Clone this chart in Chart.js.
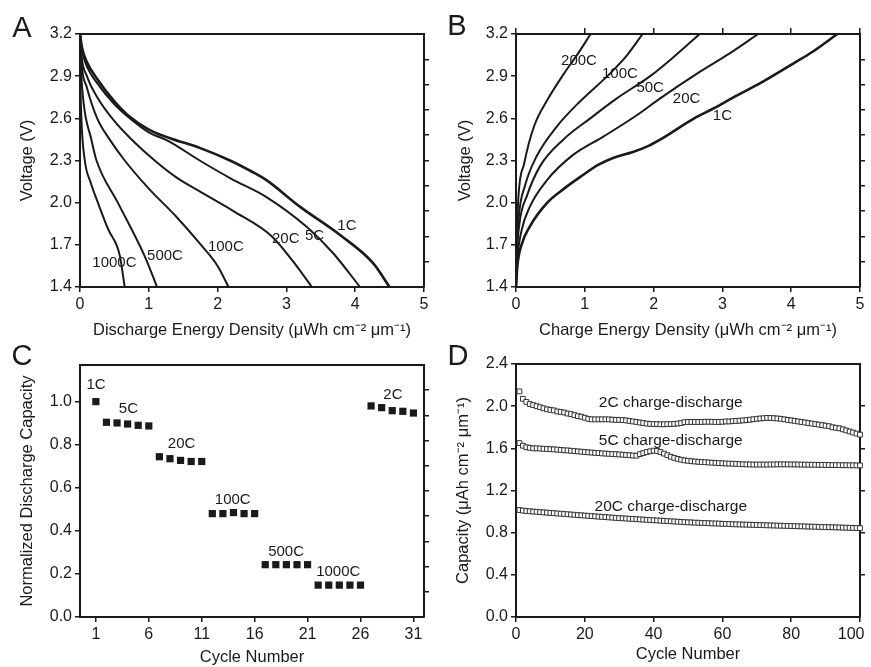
<!DOCTYPE html>
<html>
<head>
<meta charset="utf-8">
<script src="https://cdn.jsdelivr.net/npm/chart.js@4.4.1/dist/chart.umd.min.js"></script>
<style>
  body { margin: 0; background: #fff; width: 871px; height: 667px; position: relative; overflow: hidden; font-family: "Liberation Sans", Arial, sans-serif; }
  canvas { position: absolute; }
  .lt { position: absolute; font-size: 29px; line-height: 1; color: #1a1a1a; transform: translate(-50%, -50%); }
</style>
</head>
<body>
<canvas id="chartA" width="435" height="342" style="left:0;top:0"></canvas>
<canvas id="chartB" width="436" height="342" style="left:435px;top:0"></canvas>
<canvas id="chartC" width="435" height="325" style="left:0;top:342px"></canvas>
<canvas id="chartD" width="436" height="325" style="left:435px;top:342px"></canvas>
<div class="lt" style="left:22px;top:27px">A</div>
<div class="lt" style="left:457px;top:25px">B</div>
<div class="lt" style="left:22px;top:355px">C</div>
<div class="lt" style="left:458px;top:355px">D</div>
<script>
// ---- A: discharge curves [energy density, voltage]
const dis1C = [[0,3.2],[0.03,3.1],[0.1,3.0],[0.25,2.88],[0.5,2.72],[0.7,2.62],[1.0,2.52],[1.3,2.46],[1.74,2.39],[2.18,2.3],[2.5,2.22],[2.71,2.16],[3.2,1.97],[3.78,1.77],[4.26,1.57],[4.5,1.4]];
const dis5C = [[0,3.2],[0.03,3.08],[0.1,2.97],[0.25,2.85],[0.5,2.7],[0.75,2.59],[1.0,2.5],[1.28,2.44],[1.74,2.3],[2.2,2.17],[2.71,2.04],[3.29,1.83],[3.68,1.64],[4.07,1.4]];
const dis20C = [[0,3.2],[0.02,3.05],[0.1,2.9],[0.25,2.75],[0.5,2.58],[0.75,2.45],[1.085,2.3],[1.4,2.18],[1.74,2.08],[2.23,1.94],[2.79,1.76],[3.1,1.58],[3.37,1.4]];
const dis100C = [[0,3.2],[0.02,3.0],[0.1,2.82],[0.25,2.6],[0.43,2.45],[0.65,2.3],[1.0,2.1],[1.4,1.9],[1.74,1.71],[2.0,1.55],[2.16,1.4]];
const dis500C = [[0,3.2],[0.01,3.0],[0.05,2.72],[0.165,2.45],[0.24,2.3],[0.55,2.0],[0.94,1.62],[1.12,1.4]];
const dis1000C = [[0,3.2],[0.005,2.9],[0.02,2.6],[0.07,2.3],[0.15,2.15],[0.26,2.0],[0.42,1.8],[0.53,1.7],[0.58,1.62],[0.65,1.4]];
const labelsA = [
  {text: "1000C", x: 0.50, y: 1.57}, {text: "500C", x: 1.235, y: 1.62}, {text: "100C", x: 2.12, y: 1.683},
  {text: "20C", x: 2.99, y: 1.744}, {text: "5C", x: 3.41, y: 1.763}, {text: "1C", x: 3.88, y: 1.834}
];

// ---- B: charge curves
const chg1C = [[0,1.4],[0.02,1.55],[0.08,1.7],[0.2,1.83],[0.455,2.0],[0.7,2.1],[0.94,2.185],[1.2,2.27],[1.42,2.32],[1.7,2.36],[1.91,2.4],[2.1,2.45],[2.59,2.6],[2.87,2.67],[3.2,2.76],[3.55,2.85],[4.03,2.99],[4.3,3.07],[4.67,3.2]];
const chg20C = [[0,1.4],[0.02,1.6],[0.08,1.8],[0.2,1.97],[0.45,2.16],[0.83,2.34],[1.27,2.47],[1.75,2.62],[2.09,2.74],[2.67,2.93],[3.1,3.06],[3.52,3.2]];
const chg50C = [[0,1.4],[0.01,1.6],[0.05,1.85],[0.16,2.05],[0.35,2.26],[0.69,2.45],[1.08,2.6],[1.46,2.74],[1.95,2.9],[2.3,3.04],[2.67,3.2]];
const chg100C = [[0,1.4],[0.01,1.65],[0.04,1.9],[0.13,2.12],[0.3,2.33],[0.59,2.54],[0.93,2.72],[1.37,2.92],[1.6,3.04],[1.84,3.2]];
const chg200C = [[0,1.4],[0.01,1.7],[0.03,2.0],[0.12,2.28],[0.26,2.54],[0.455,2.73],[0.7,2.92],[0.9,3.06],[1.085,3.2]];
const labelsB = [
  {text: "200C", x: 0.916, y: 3.01}, {text: "100C", x: 1.51, y: 2.915}, {text: "50C", x: 1.95, y: 2.814},
  {text: "20C", x: 2.48, y: 2.738}, {text: "1C", x: 3.0, y: 2.617}
];

// ---- C: normalized discharge capacity per cycle
const cycleC = [1,2,3,4,5,6,7,8,9,10,11,12,13,14,15,16,17,18,19,20,21,22,23,24,25,26,27,28,29,30,31];
const capC = [1.0, 0.904,0.901,0.896,0.89,0.887, 0.744,0.735,0.727,0.722,0.722, 0.48,0.48,0.485,0.48,0.48,
  0.243,0.243,0.243,0.243,0.243, 0.148,0.148,0.148,0.148,0.148, 0.98,0.972,0.958,0.955,0.947];
const labelsC = [
  {text: "1C", x: 1.01, y: 1.078}, {text: "5C", x: 4.07, y: 0.966}, {text: "20C", x: 9.1, y: 0.803},
  {text: "100C", x: 13.93, y: 0.546}, {text: "500C", x: 18.97, y: 0.303}, {text: "1000C", x: 23.9, y: 0.21},
  {text: "2C", x: 29.06, y: 1.031}
];

// ---- D: capacity over 100 cycles
const cycleD = [1,2,3,4,5,6,7,8,9,10,11,12,13,14,15,16,17,18,19,20,21,22,23,24,25,26,27,28,29,30,31,32,33,34,35,36,37,38,39,40,41,42,43,44,45,46,47,48,49,50,
  51,52,53,54,55,56,57,58,59,60,61,62,63,64,65,66,67,68,69,70,71,72,73,74,75,76,77,78,79,80,81,82,83,84,85,86,87,88,89,90,91,92,93,94,95,96,97,98,99,100];
const cap2C = [2.14,2.07,2.04,2.02,2.01,2.0,1.99,1.98,1.97,1.965,1.96,1.95,1.945,1.94,1.93,1.925,1.915,1.905,1.9,1.89,
  1.88,1.875,1.875,1.875,1.875,1.875,1.875,1.872,1.87,1.87,1.868,1.865,1.86,1.855,1.85,1.845,1.84,1.835,1.832,1.83,
  1.83,1.828,1.828,1.83,1.83,1.832,1.835,1.84,1.848,1.85,1.85,1.85,1.85,1.85,1.852,1.852,1.852,1.85,1.85,1.852,
  1.855,1.855,1.858,1.86,1.862,1.865,1.868,1.872,1.876,1.88,1.883,1.886,1.888,1.888,1.886,1.883,1.88,1.875,1.87,1.865,
  1.86,1.855,1.85,1.845,1.84,1.835,1.83,1.825,1.82,1.815,1.81,1.8,1.795,1.79,1.78,1.77,1.76,1.75,1.74,1.73];
const cap5C = [1.65,1.625,1.61,1.605,1.6,1.6,1.598,1.596,1.594,1.592,1.59,1.588,1.585,1.582,1.58,1.577,1.574,1.571,1.568,1.565,
  1.562,1.56,1.557,1.555,1.552,1.55,1.548,1.546,1.544,1.542,1.54,1.537,1.535,1.532,1.53,1.545,1.555,1.565,1.572,1.578,
  1.575,1.565,1.55,1.535,1.52,1.51,1.5,1.492,1.486,1.482,1.478,1.475,1.472,1.47,1.468,1.466,1.464,1.462,1.46,1.458,
  1.456,1.455,1.454,1.452,1.45,1.449,1.448,1.447,1.446,1.446,1.446,1.446,1.446,1.447,1.447,1.448,1.448,1.448,1.448,1.447,
  1.447,1.446,1.446,1.445,1.445,1.444,1.444,1.443,1.443,1.442,1.442,1.441,1.441,1.44,1.44,1.44,1.439,1.439,1.438,1.438];
const cap20C = [1.015,1.01,1.005,1.003,1.0,0.998,0.995,0.992,0.99,0.987,0.985,0.982,0.98,0.977,0.975,0.972,0.97,0.967,0.965,0.962,
  0.96,0.957,0.955,0.952,0.95,0.948,0.945,0.943,0.94,0.938,0.936,0.934,0.932,0.93,0.928,0.926,0.924,0.922,0.92,0.918,
  0.916,0.914,0.912,0.91,0.908,0.906,0.904,0.902,0.9,0.898,0.897,0.895,0.894,0.892,0.891,0.89,0.888,0.887,0.886,0.884,
  0.883,0.882,0.88,0.879,0.878,0.877,0.876,0.875,0.874,0.873,0.872,0.871,0.87,0.869,0.868,0.867,0.866,0.865,0.864,0.863,
  0.862,0.861,0.86,0.859,0.858,0.857,0.856,0.855,0.854,0.853,0.852,0.851,0.85,0.849,0.848,0.847,0.846,0.845,0.844,0.843];
const labelsD = [
  {text: "2C charge-discharge", x: 45, y: 2.036}, {text: "5C charge-discharge", x: 45, y: 1.675},
  {text: "20C charge-discharge", x: 45, y: 1.049}
];

// ---- axis tick lists
const voltTicks = [1.4, 1.7, 2.0, 2.3, 2.6, 2.9, 3.2];
const voltRight = [1.58, 1.76, 1.94, 2.12, 2.3, 2.48, 2.66, 2.84, 3.02];
const energyTicks = [0, 1, 2, 3, 4, 5];
const cycleTicksC = [1, 6, 11, 16, 21, 26, 31];
const normTicks = [0, 0.2, 0.4, 0.6, 0.8, 1.0];
const normRight = [0.117, 0.234, 0.351, 0.468, 0.585, 0.702, 0.819, 0.936, 1.053];
const cycleTicksD = [0, 20, 40, 60, 80, 100];
const capTicks = [0, 0.4, 0.8, 1.2, 1.6, 2.0, 2.4];
const capRight = [0.4, 0.8, 1.2, 1.6, 2.0];

const FONT = '"Liberation Sans", Arial, sans-serif';
const ink = "#1a1a1a";

const pairs = arr => arr.map(p => ({x: p[0], y: p[1]}));
const fixedTicks = list => s => { s.ticks = list.map(v => ({value: v})); };

const textLabels = {
  id: "textLabels",
  afterDatasetsDraw(chart, args, opts) {
    const {ctx, scales: {x, y}} = chart;
    ctx.save();
    ctx.font = opts.size + "px " + FONT;
    ctx.fillStyle = ink;
    ctx.textAlign = "center";
    ctx.textBaseline = "middle";
    opts.items.forEach(t => ctx.fillText(t.text, x.getPixelForValue(t.x), y.getPixelForValue(t.y)));
    ctx.restore();
  }
};

function buildScales(c) {
  const tickMarks = len => ({display: true, drawOnChartArea: false, tickLength: len, color: ink, lineWidth: 1.5});
  const border = {display: true, color: ink, width: 2};
  return {
    x: {
      type: "linear", position: "bottom", min: c.xMin, max: c.xMax,
      afterBuildTicks: fixedTicks(c.xTicks),
      afterFit: s => { s.height = c.B; s.paddingLeft = 0; s.paddingRight = 0; },
      grid: tickMarks(5), border: border,
      ticks: {color: ink, font: {family: FONT, size: 16}, padding: 3, maxRotation: 0, autoSkip: false,
        // the last label sits flush against the page edge, so pad it to pull it left
        callback: v => (v === c.xMax && c.padLast) ? v + "    " : v},
      title: {display: true, text: c.xTitle, color: ink, font: {family: FONT, size: 16.5}, padding: {top: 0, bottom: c.xTitlePad}}
    },
    xTop: {
      type: "linear", position: "top", min: c.xMin, max: c.xMax,
      afterBuildTicks: fixedTicks(c.topTicks),
      afterFit: s => { s.height = c.T; s.paddingLeft = 0; s.paddingRight = 0; },
      grid: tickMarks(c.topLen), border: border, ticks: {display: false}
    },
    y: {
      type: "linear", position: "left", min: c.yMin, max: c.yMax,
      afterBuildTicks: fixedTicks(c.yTicks),
      afterFit: s => { s.width = c.L; s.paddingTop = 0; s.paddingBottom = 0; },
      grid: tickMarks(5), border: border,
      ticks: {color: ink, font: {family: FONT, size: 16}, padding: 3, autoSkip: false, callback: v => v.toFixed(1)},
      title: {display: true, text: c.yTitle, color: ink, font: {family: FONT, size: 16.5}, padding: {top: c.yTitlePad, bottom: 0}}
    },
    yRight: {
      type: "linear", position: "right", min: c.yMin, max: c.yMax,
      afterBuildTicks: fixedTicks(c.rightTicks),
      afterFit: s => { s.width = c.R; s.paddingTop = 0; s.paddingBottom = 0; },
      grid: tickMarks(5), border: border, ticks: {display: false}
    }
  };
}

function lineSet(data, w) {
  return {data: pairs(data), showLine: true, borderColor: ink, borderWidth: w, pointRadius: 0,
    cubicInterpolationMode: "monotone", fill: false};
}

const baseOptions = (scales, labels, size) => ({
  responsive: false, animation: false,
  layout: {padding: 0},
  scales: scales,
  plugins: {legend: {display: false}, tooltip: {enabled: false}, textLabels: {items: labels, size: size}}
});

document.addEventListener("DOMContentLoaded", () => {
  new Chart(document.querySelector("#chartA"), {
    type: "scatter",
    data: {datasets: [lineSet(dis1C, 2.6), lineSet(dis5C, 2), lineSet(dis20C, 2), lineSet(dis100C, 2), lineSet(dis500C, 2), lineSet(dis1000C, 2)]},
    options: baseOptions(buildScales({
      xMin: 0, xMax: 5, xTicks: energyTicks, topTicks: energyTicks, topLen: 0,
      yMin: 1.4, yMax: 3.2, yTicks: voltTicks, rightTicks: voltRight,
      L: 80, R: 11, T: 34, B: 55, xTitlePad: 1.4, yTitlePad: 17.4,
      xTitle: "Discharge Energy Density (\u03bcWh cm\u207b\u00b2 \u03bcm\u207b\u00b9)", yTitle: "Voltage (V)"
    }), labelsA, 15),
    plugins: [textLabels]
  });

  new Chart(document.querySelector("#chartB"), {
    type: "scatter",
    data: {datasets: [lineSet(chg1C, 2.6), lineSet(chg20C, 2), lineSet(chg50C, 2), lineSet(chg100C, 2), lineSet(chg200C, 2)]},
    options: baseOptions(buildScales({
      xMin: 0, xMax: 5, xTicks: energyTicks, topTicks: energyTicks, topLen: 6,
      yMin: 1.4, yMax: 3.2, yTicks: voltTicks, rightTicks: voltRight,
      L: 81, R: 11, T: 34, B: 55, xTitlePad: 1.4, yTitlePad: 20.4,
      xTitle: "Charge Energy Density (\u03bcWh cm\u207b\u00b2 \u03bcm\u207b\u00b9)", yTitle: "Voltage (V)"
    }), labelsB, 15),
    plugins: [textLabels]
  });

  new Chart(document.querySelector("#chartC"), {
    type: "scatter",
    data: {datasets: [{data: cycleC.map((c, i) => ({x: c, y: capC[i]})), pointStyle: "rect", pointRadius: 5.1,
      backgroundColor: ink, borderWidth: 0}]},
    options: baseOptions(buildScales({
      xMin: -0.5, xMax: 32, xTicks: cycleTicksC, topTicks: cycleTicksC, topLen: 0,
      yMin: 0, yMax: 1.17, yTicks: normTicks, rightTicks: normRight,
      L: 80, R: 11, T: 23, B: 50, xTitlePad: 0, yTitlePad: 17.4,
      xTitle: "Cycle Number", yTitle: "Normalized Discharge Capacity"
    }), labelsC, 15),
    plugins: [textLabels]
  });

  const openSquares = vals => ({data: cycleD.map((c, i) => ({x: c, y: vals[i]})), pointStyle: "rect", pointRadius: 3.4,
    backgroundColor: "#fff", borderColor: "#333", borderWidth: 1, clip: 6});
  new Chart(document.querySelector("#chartD"), {
    type: "scatter",
    data: {datasets: [openSquares(cap2C), openSquares(cap5C), openSquares(cap20C)]},
    options: baseOptions(buildScales({
      xMin: 0, xMax: 100, xTicks: cycleTicksD, topTicks: cycleTicksD, topLen: 0, padLast: true,
      yMin: 0, yMax: 2.4, yTicks: capTicks, rightTicks: capRight,
      L: 81, R: 11, T: 22, B: 50, xTitlePad: 2.4, yTitlePad: 18.4,
      xTitle: "Cycle Number", yTitle: "Capacity (\u03bcAh cm\u207b\u00b2 \u03bcm\u207b\u00b9)"
    }), labelsD, 15.5),
    plugins: [textLabels]
  });
});
</script>
</body>
</html>
